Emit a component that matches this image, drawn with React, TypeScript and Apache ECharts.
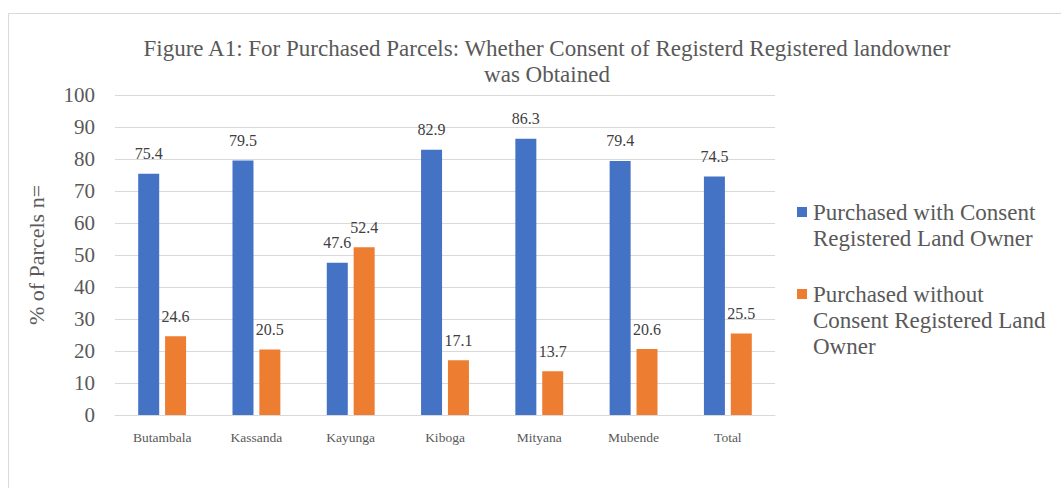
import React, { useEffect, useRef } from "react";
import * as echarts from "echarts";

const categories = ["Butambala", "Kassanda", "Kayunga", "Kiboga", "Mityana", "Mubende", "Total"];
const seriesNames = [
  "Purchased with Consent Registered Land Owner",
  "Purchased without Consent Registered Land Owner",
];
const legendLines = [
  ["Purchased with Consent", "Registered Land Owner"],
  ["Purchased without", "Consent Registered Land", "Owner"],
];
const withConsent = [75.4, 79.5, 47.6, 82.9, 86.3, 79.4, 74.5];
const withoutConsent = [24.6, 20.5, 52.4, 17.1, 13.7, 20.6, 25.5];
const colors = ["#4472C4", "#ED7D31"];
const yTicks = { min: 0, max: 100, interval: 10 };
const titleText =
  "Figure A1: For Purchased Parcels: Whether Consent of Registerd Registered landowner\nwas Obtained";
const yAxisName = "% of Parcels n=";

const FONT = "Liberation Serif";
const GREY = "#595959";

export default function App() {
  const ref = useRef<HTMLDivElement>(null);
  useEffect(() => {
    if (!ref.current) return;
    const chart = echarts.init(ref.current, undefined, { renderer: "svg" });
    const legendGraphics: any[] = [];
    const legendStartY = [212, 294];
    legendLines.forEach((lines, i) => {
      legendGraphics.push({
        type: "rect",
        shape: { x: 797, y: legendStartY[i] - 5, width: 10, height: 10 },
        style: { fill: colors[i] },
      });
      legendGraphics.push({
        type: "text",
        x: 813,
        y: legendStartY[i] - 13,
        style: {
          text: lines.join("\n"),
          fontFamily: FONT,
          fontSize: 23,
          fill: GREY,
          lineHeight: 26,
          verticalAlign: "top",
        },
      });
    });
    chart.setOption({
      animation: false,
      backgroundColor: "#ffffff",
      title: {
        text: titleText,
        left: 542,
        top: 30,
        textAlign: "center",
        textStyle: {
          fontFamily: FONT,
          fontSize: 23,
          fontWeight: "normal",
          color: GREY,
          lineHeight: 26,
        },
      },
      graphic: [
        {
          type: "rect",
          shape: { x: 8.5, y: 13.5, width: 1080, height: 500 },
          style: { fill: "none", stroke: "#d9d9d9", lineWidth: 1 },
          silent: true,
          z: -1,
        },
        ...legendGraphics,
      ],
      grid: { left: 115, right: 286, top: 95, bottom: 73 },
      xAxis: {
        type: "category",
        data: categories,
        axisTick: { show: false },
        axisLine: { lineStyle: { color: "#d9d9d9", width: 1 } },
        axisLabel: { color: GREY, fontFamily: FONT, fontSize: 13.5, margin: 15 },
      },
      yAxis: {
        type: "value",
        min: yTicks.min,
        max: yTicks.max,
        interval: yTicks.interval,
        name: yAxisName,
        nameLocation: "middle",
        nameGap: 68,
        nameRotate: 90,
        nameTextStyle: { color: GREY, fontFamily: FONT, fontSize: 22 },
        axisLine: { show: false },
        axisTick: { show: false },
        axisLabel: { color: GREY, fontFamily: FONT, fontSize: 21, margin: 20 },
        splitLine: { lineStyle: { color: "#d9d9d9", width: 1 } },
      },
      series: [withConsent, withoutConsent].map((d, i) => ({
        name: seriesNames[i],
        type: "bar",
        data: d,
        barWidth: 21,
        barGap: "28%",
        itemStyle: { color: colors[i] },
        label: {
          show: true,
          position: "top",
          distance: 12,
          color: "#404040",
          fontFamily: FONT,
          fontSize: 16,
        },
      })),
    });
    return () => chart.dispose();
  }, []);
  return (
    <div
      ref={ref}
      style={{ position: "fixed", left: 0, top: 0, width: 1061, height: 488 }}
    />
  );
}
